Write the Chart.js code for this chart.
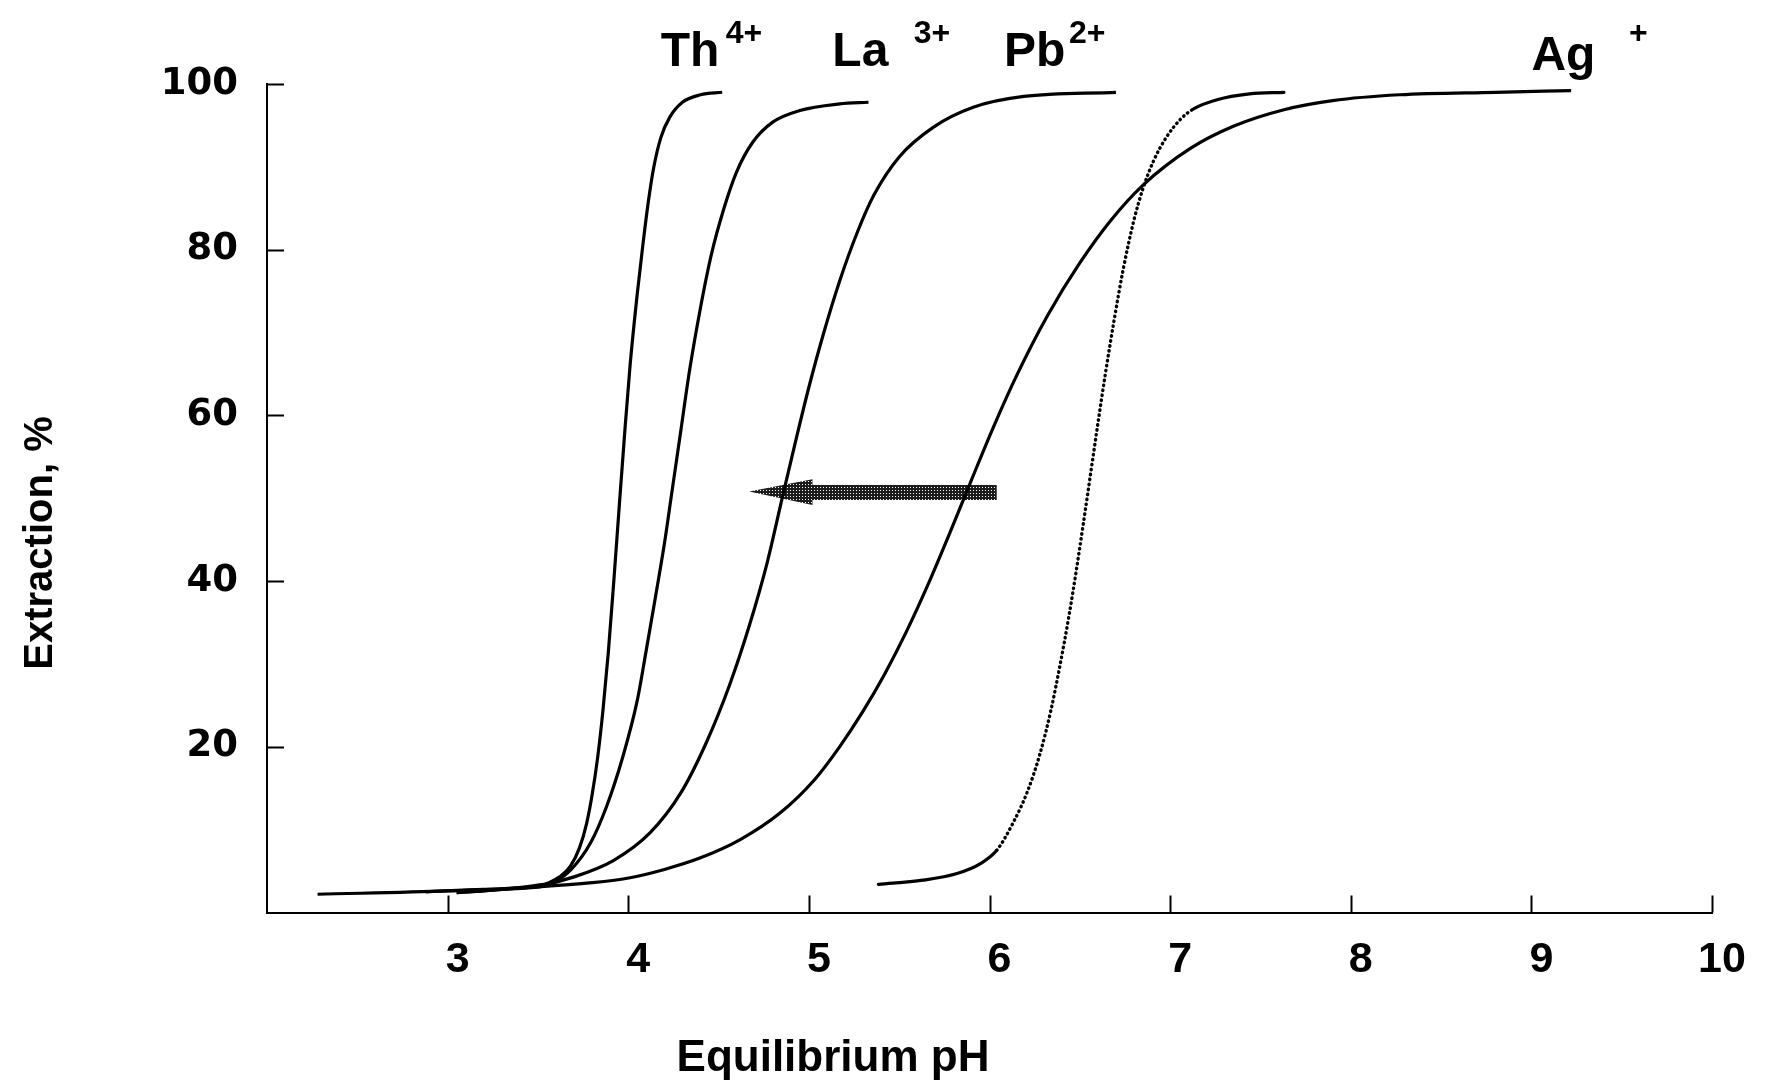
<!DOCTYPE html>
<html>
<head>
<meta charset="utf-8">
<title>Extraction vs equilibrium pH</title>
<script src="https://cdn.jsdelivr.net/npm/chart.js@4.4.1/dist/chart.umd.min.js"></script>
<style>
body{margin:0;background:#fff}
canvas{display:block}
</style>
</head>
<body>
<canvas id="extractionChart" width="1773" height="1084"></canvas>
<script>

/* ---------- DATA ---------- */

const thPH  = [2.88,3.2,3.51,3.55,3.62,3.68,3.73,3.77,3.8,3.83,3.86,3.89,3.92,3.95,3.98,4.01,4.05,4.08,4.11,4.14,4.18,4.23,4.3,4.4,4.52];
const thExt = [2.5,2.8,3.1,3.5,4.3,5.6,7.8,10.8,14.2,18.6,24.4,31.5,40.0,49.0,57.8,66.0,74.7,80.4,85.6,89.8,93.5,96.0,97.8,98.7,99.0];

const laPH  = [3.05,3.3,3.5,3.59,3.68,3.79,3.88,3.97,4.05,4.1,4.15,4.2,4.24,4.29,4.34,4.4,4.46,4.53,4.6,4.69,4.8,4.95,5.17,5.33];
const laExt = [2.4,2.8,3.3,3.7,5.1,8.35,12.8,18.8,25.6,31.7,38.0,44.5,50.5,58.0,65.5,73.0,79.4,85.0,89.4,93.0,95.4,96.8,97.6,97.8];

const pbPH  = [3.05,3.3,3.5,3.7,3.92,4.12,4.29,4.43,4.56,4.67,4.77,4.85,4.93,5.0,5.08,5.17,5.27,5.36,5.5,5.69,5.91,6.19,6.7];
const pbExt = [2.4,2.8,3.2,4.3,6.3,9.6,14.4,20.4,27.4,34.6,42.3,49.8,57.2,63.4,69.8,76.2,82.2,86.6,91.2,94.8,97.2,98.5,99.0];

const agPH  = [2.28,3.0,3.5,3.8,4.01,4.2,4.4,4.62,4.84,5.03,5.17,5.3,5.42,5.54,5.66,5.78,5.9,6.02,6.15,6.32,6.5,6.67,6.85,7.11,7.35,7.63,7.9,8.27,8.8,9.22];
const agExt = [2.2,2.6,3.1,3.6,4.2,5.2,6.6,8.8,12.0,16.0,20.0,24.3,28.8,33.9,39.6,45.8,52.2,58.5,64.8,72.0,78.4,83.5,87.8,92.2,94.9,96.9,98.0,98.7,99.0,99.2];

/* dotted curve */
const dotPH  = [5.385,5.63,5.82,5.95,6.04,6.13,6.21,6.28,6.34,6.39,6.44,6.48,6.52,6.56,6.6,6.64,6.69,6.74,6.8,6.85,6.91,6.98,7.06,7.13,7.26,7.44,7.63];
const dotExt = [3.4,3.9,4.7,5.9,7.5,10.8,14.6,19.2,24.4,29.8,35.8,41.2,47.0,53.0,59.0,64.8,71.5,77.6,83.6,87.4,90.8,93.6,95.8,97.0,98.1,98.8,99.0];
const dotFrom = 6.0, dotTo = 7.13;

/* curve labels */
const ionNames   = ["Th","La","Pb","Ag"];
const ionCharges = ["4+","3+","2+","+"];
const namePH     = [4.18,5.13,6.08,9.0];
const chargePH   = [4.54,5.58,6.44,9.54];

/* arrow outline (pH, extraction %) */
const arrowPH  = [4.67,5.02,5.02,6.04,6.04,5.02,5.02];
const arrowExt = [50.8,52.3,51.6,51.6,49.8,49.8,49.2];

const xTicks = [3,4,5,6,7,8,9,10];
const yTicks = [20,40,60,80,100];

const xTitle = "Equilibrium pH";
const yTitle = "Extraction, %";


/* ---------- HELPERS ---------- */

function pts(xs,ys){
return xs.map((x,i)=>({x:x,y:ys[i]}))
}

function curve(xs,ys){
return {
data:pts(xs,ys),
borderColor:"#000",
borderWidth:3.2,
pointRadius:0,
fill:false,
cubicInterpolationMode:"monotone"
}
}

function stipple(ctx){
const c=document.createElement("canvas")
c.width=3;c.height=3
const g=c.getContext("2d")
g.fillStyle="#1c1c1c";g.fillRect(0,0,3,3)
g.fillStyle="#ffffff";g.fillRect(1,1,1,1)
return ctx.createPattern(c,"repeat")
}

const TXT="'Liberation Sans', Arial, sans-serif"


/* ---------- DECORATION PLUGIN ---------- */

const decor={
id:"decor",

beforeDatasetsDraw(chart){
const ctx=chart.ctx, xs=chart.scales.x, ys=chart.scales.y
ctx.save()
ctx.beginPath()
arrowPH.forEach((p,i)=>{
const px=xs.getPixelForValue(p), py=ys.getPixelForValue(arrowExt[i])
if(i===0) ctx.moveTo(px,py); else ctx.lineTo(px,py)
})
ctx.closePath()
ctx.fillStyle=stipple(ctx)
ctx.fill()
ctx.restore()
},

afterDraw(chart){
const ctx=chart.ctx, xs=chart.scales.x, ys=chart.scales.y
const area=chart.chartArea
ctx.save()

/* inner tick marks */
ctx.strokeStyle="#000";ctx.lineWidth=2
xTicks.forEach(v=>{
const px=Math.round(xs.getPixelForValue(v))+0.5
ctx.beginPath();ctx.moveTo(px,area.bottom);ctx.lineTo(px,area.bottom-17);ctx.stroke()
})
yTicks.forEach(v=>{
const py=Math.round(ys.getPixelForValue(v))+0.5
ctx.beginPath();ctx.moveTo(area.left,py);ctx.lineTo(area.left+17,py);ctx.stroke()
})

/* ion labels */
ctx.fillStyle="#000"
ctx.textBaseline="alphabetic"
ctx.textAlign="left"
ionNames.forEach((n,i)=>{
const up = n==="Ag" ? -14 : -18
ctx.font="bold 48px "+TXT
ctx.fillText(n,xs.getPixelForValue(namePH[i]),area.top+up)
ctx.font="bold 32px "+TXT
ctx.fillText(ionCharges[i],xs.getPixelForValue(chargePH[i]),area.top-41)
})

/* axis titles */
ctx.textAlign="center"
ctx.textBaseline="middle"
ctx.font="bold 44px "+TXT
ctx.fillText(xTitle,833,1059)
ctx.translate(41,543)
ctx.rotate(-Math.PI/2)
ctx.font="bold 40px "+TXT
ctx.fillText(yTitle,0,0)

ctx.restore()
}
}


/* ---------- CHART ---------- */

const dotted=curve(dotPH,dotExt)
dotted.segment={
borderDash:c=>(c.p0.parsed.x>=dotFrom && c.p1.parsed.x<=dotTo) ? [0.5,4.5] : undefined,
borderWidth:c=>(c.p0.parsed.x>=dotFrom && c.p1.parsed.x<=dotTo) ? 3.4 : undefined
}
dotted.borderCapStyle="round"

const chart=new Chart(document.getElementById("extractionChart").getContext("2d"),{
type:"line",
data:{
datasets:[
curve(thPH,thExt),
curve(laPH,laExt),
curve(pbPH,pbExt),
curve(agPH,agExt),
dotted
]
},
options:{
responsive:false,
animation:false,
layout:{padding:{top:84,right:61,left:0,bottom:0}},
plugins:{legend:{display:false},tooltip:{enabled:false}},
scales:{
x:{
type:"linear",
min:2,max:10,
afterBuildTicks:s=>{s.ticks=xTicks.map(v=>({value:v}))},
afterFit:s=>{s.height=171.5},
grid:{display:false},
border:{display:true,color:"#000",width:2},
ticks:{
color:"#000",
padding:14,
labelOffset:10,
maxRotation:0,
autoSkip:false,
font:{family:TXT,size:43,weight:"bold",lineHeight:1.2}
}
},
y:{
min:0,max:100,
afterBuildTicks:s=>{s.ticks=yTicks.map(v=>({value:v}))},
afterFit:s=>{s.width=267},
grid:{display:false},
border:{display:true,color:"#000",width:2},
ticks:{
color:"#000",
padding:21,
font:{family:"'DejaVu Sans', sans-serif",size:37,weight:"bold"}
}
}
}
},
plugins:[decor]
})

</script>
</body>
</html>
